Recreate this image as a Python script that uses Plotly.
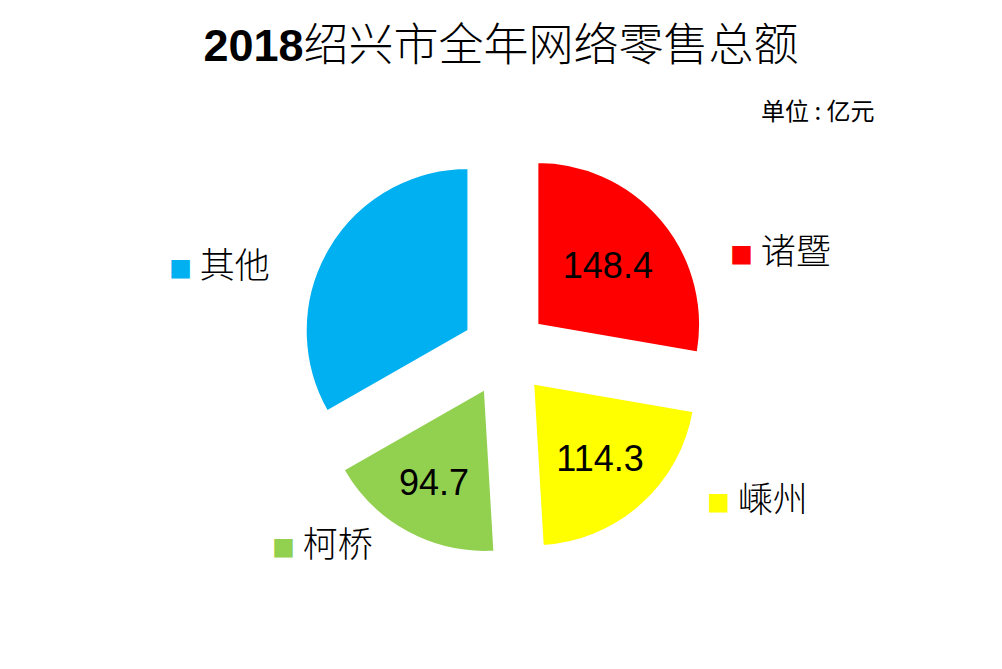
import plotly.graph_objects as go

# Data
categories = ["诸暨", "嵊州", "柯桥", "其他"]
values = [148.4, 114.3, 94.7, 178.0]
show_value = [True, True, True, False]
colors = ["#FF0000", "#FFFF00", "#92D050", "#00B0F0"]

title_text = "<b>2018</b>绍兴市全年网络零售总额"
unit_text = "单位 : 亿元"

# label placement (paper coords) for the outside category labels
label_pos = {
    "其他": (0.1667, 0.607),
    "诸暨": (0.7265, 0.629),
    "嵊州": (0.7036, 0.258),
    "柯桥": (0.2695, 0.191),
}

texts = [f"{v}" if s else "" for v, s in zip(values, show_value)]

fig = go.Figure(
    go.Pie(
        labels=categories,
        values=values,
        text=texts,
        textinfo="text",
        textposition="inside",
        insidetextorientation="horizontal",
        textfont=dict(family="Arial, Liberation Sans", size=36, color="black"),
        marker=dict(colors=colors, line=dict(color="white", width=2)),
        pull=[0.26] * len(values),
        sort=False,
        direction="clockwise",
        rotation=0,
        showlegend=False,
        hoverinfo="label+value",
        domain=dict(x=[0.2994, 0.7086], y=[0.1668, 0.7809]),
    )
)

annotations = []
for cat, col in zip(categories, colors):
    x, y = label_pos[cat]
    annotations.append(
        dict(
            x=x, y=y, xref="paper", yref="paper",
            xanchor="left", yanchor="middle", showarrow=False,
            text=f"<span style='color:{col};font-size:23px'>■</span> {cat}",
            font=dict(family="Noto Sans CJK SC", size=35, color="black", weight=300),
        )
    )

annotations.append(
    dict(
        x=876 / 1002, y=1 - 110 / 669, xref="paper", yref="paper",
        xanchor="right", yanchor="middle", showarrow=False,
        text=unit_text,
        font=dict(family="Noto Sans CJK SC", size=24, color="black"),
    )
)

fig.update_layout(
    width=1002,
    height=669,
    margin=dict(l=0, r=0, t=0, b=0),
    paper_bgcolor="white",
    plot_bgcolor="white",
    title=dict(
        text=title_text,
        x=0.5, xanchor="center",
        y=1 - 45 / 669, yanchor="middle",
        font=dict(family="Arial, Liberation Sans, Noto Sans CJK SC", size=45,
                  color="black", weight=300),
    ),
    annotations=annotations,
)

fig.write_html("out.html")
